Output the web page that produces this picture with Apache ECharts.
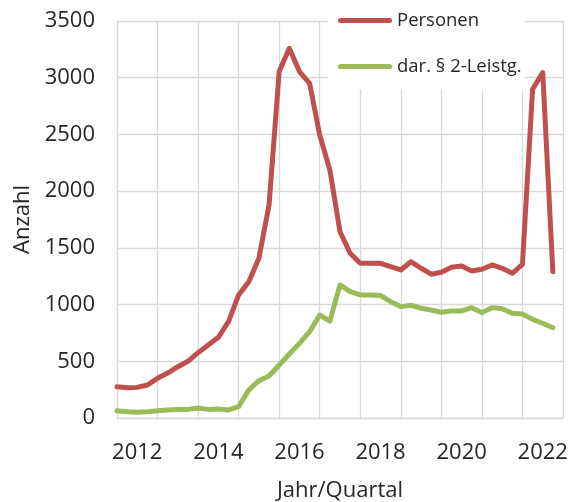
<!DOCTYPE html>
<html>
<head>
<meta charset="utf-8">
<script src="https://cdn.jsdelivr.net/npm/echarts@6/dist/echarts.min.js"></script>
<style>
  html, body { margin: 0; padding: 0; background: #fff; }
  #chart { width: 578px; height: 502px; }
</style>
</head>
<body>
<div id="chart"></div>
<script>
// quarters, Jahr/Quartal (last one has no value yet)
var quarters = ['2011/4',
  '2012/1', '2012/2', '2012/3', '2012/4',
  '2013/1', '2013/2', '2013/3', '2013/4',
  '2014/1', '2014/2', '2014/3', '2014/4',
  '2015/1', '2015/2', '2015/3', '2015/4',
  '2016/1', '2016/2', '2016/3', '2016/4',
  '2017/1', '2017/2', '2017/3', '2017/4',
  '2018/1', '2018/2', '2018/3', '2018/4',
  '2019/1', '2019/2', '2019/3', '2019/4',
  '2020/1', '2020/2', '2020/3', '2020/4',
  '2021/1', '2021/2', '2021/3', '2021/4',
  '2022/1', '2022/2', '2022/3', '2022/4'];

var personen = [276, 267, 270, 291, 350, 396, 452, 500, 576, 643, 711, 850,
  1085, 1202, 1408, 1878, 3054, 3260, 3054, 2951, 2495, 2187, 1643, 1452,
  1364, 1364, 1364, 1334, 1305, 1378, 1320, 1268, 1285, 1329, 1340, 1296,
  1311, 1349, 1320, 1276, 1355, 2898, 3045, 1290];

var leistungen = [64, 56, 50, 56, 64, 71, 76, 76, 88, 76, 79, 71,
  100, 247, 329, 370, 467, 564, 658, 761, 908, 855, 1173, 1114,
  1085, 1085, 1080, 1026, 982, 994, 967, 952, 932, 944, 944, 973,
  929, 973, 964, 923, 917, 870, 835, 796];

var yTicks = [0, 500, 1000, 1500, 2000, 2500, 3000, 3500];

var chart = echarts.init(document.getElementById('chart'));
var font = 'Open Sans';
var ink = '#262626';
var gridColor = '#d9d9d9';
var barIcon = 'path://M2.5,0 L51.5,0 A2.5,2.5 0 0 1 51.5,5 L2.5,5 A2.5,2.5 0 0 1 2.5,0 Z';

var option = {
  animation: false,
  backgroundColor: '#fff',
  textStyle: { fontFamily: font },
  grid: { left: 117, right: 15, top: 21, bottom: 84, containLabel: false, outerBoundsMode: 'none' },
  legend: {
    orient: 'vertical',
    left: 328,
    top: 0,
    padding: [11, 3, 13, 10],
    backgroundColor: '#fff',
    itemWidth: 54,
    itemHeight: 16,
    itemGap: 27,
    icon: barIcon,
    textStyle: { fontFamily: font, fontSize: 18.5, color: ink },
    data: ['Personen', 'dar. § 2-Leistg.']
  },
  xAxis: {
    type: 'category',
    data: quarters,
    boundaryGap: false,
    name: 'Jahr/Quartal',
    nameLocation: 'middle',
    nameGap: 62,
    nameTextStyle: { fontFamily: font, fontSize: 22, color: ink },
    axisLine: { lineStyle: { color: gridColor, width: 1.3 } },
    axisTick: { show: false },
    axisLabel: {
      interval: function (i) { return i % 8 === 2; },
      formatter: function (v) { return v.split('/')[0]; },
      fontFamily: font, fontSize: 22, color: ink, margin: 24
    },
    splitLine: {
      show: true,
      interval: function (i) { return i % 4 === 0; },
      lineStyle: { color: gridColor, width: 1.3 }
    }
  },
  yAxis: {
    type: 'value',
    min: yTicks[0],
    max: yTicks[yTicks.length - 1],
    interval: 500,
    name: 'Anzahl',
    nameLocation: 'middle',
    nameGap: 72,
    nameTextStyle: { fontFamily: font, fontSize: 22, color: ink },
    axisLine: { show: true, lineStyle: { color: gridColor, width: 1.3 } },
    axisTick: { show: false },
    axisLabel: {
      formatter: function (v) { return String(v); },
      fontFamily: font, fontSize: 22, color: ink, margin: 22
    },
    splitLine: { lineStyle: { color: gridColor, width: 1.3 } }
  },
  series: [
    {
      name: 'Personen',
      type: 'line',
      data: personen,
      symbol: 'none',
      color: '#c0504d',
      lineStyle: { width: 5, cap: 'round', join: 'round' }
    },
    {
      name: 'dar. § 2-Leistg.',
      type: 'line',
      data: leistungen,
      symbol: 'none',
      color: '#9bbb59',
      lineStyle: { width: 5, cap: 'round', join: 'round' }
    }
  ]
};
chart.setOption(option);
</script>
</body>
</html>
